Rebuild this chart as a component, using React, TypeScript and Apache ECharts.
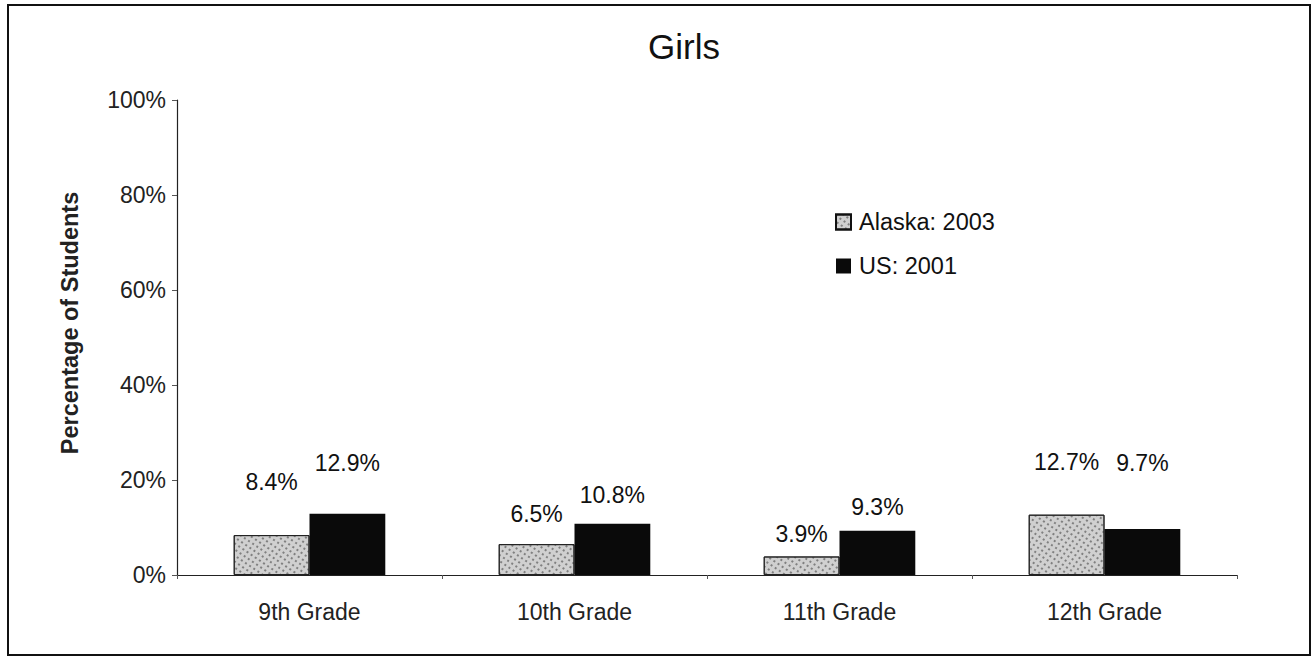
import React, { useEffect, useRef } from "react";
import * as echarts from "echarts";

const categories = ["9th Grade", "10th Grade", "11th Grade", "12th Grade"];
const alaska2003 = [8.4, 6.5, 3.9, 12.7];
const us2001 = [12.9, 10.8, 9.3, 9.7];
const alaskaLabelDist = [42, 19, 11, 41];
const usLabelDist = [39, 17, 12, 54];
const yTicks = [0, 20, 40, 60, 80, 100];
const yAxisTitle = "Percentage of Students";

const FONT = "Liberation Sans, Arial, sans-serif";

export default function App() {
  const ref = useRef<HTMLDivElement>(null);
  useEffect(() => {
    if (!ref.current) return;
    const chart = echarts.init(ref.current, null, { renderer: "svg" });
    const decal = {
      symbol: "rect",
      symbolSize: 0.8,
      color: "rgba(40,40,40,0.8)",
      dashArrayX: [2, 3],
      dashArrayY: [2, 3],
      rotation: 0.6,
    };
    chart.setOption({
      animation: false,
      backgroundColor: "#ffffff",
      title: {
        text: "Girls",
        left: 679,
        top: 24,
        textAlign: "center",
        textStyle: { fontFamily: FONT, fontSize: 35, fontWeight: "normal", color: "#111" },
      },
      legend: {
        orient: "vertical",
        left: 835,
        top: 210,
        padding: 0,
        itemWidth: 15,
        itemHeight: 15,
        itemGap: 20,
        textStyle: { fontFamily: FONT, fontSize: 23.5, color: "#111", padding: [0, 0, 0, 3] },
        data: [
          { name: "Alaska: 2003", icon: "rect", itemStyle: { color: "#d0d0d0", borderColor: "#111", borderWidth: 2, decal } },
          { name: "US: 2001", icon: "rect" },
        ],
      },
      grid: { left: 177, right: 77, top: 100, bottom: 84 },
      xAxis: {
        type: "category",
        data: categories,
        axisLine: { lineStyle: { color: "#222", width: 1.2 } },
        axisTick: { show: true, length: 4, lineStyle: { color: "#555" } },
        axisLabel: { fontFamily: FONT, fontSize: 23, color: "#222", margin: 25 },
      },
      yAxis: {
        type: "value",
        min: 0,
        max: 100,
        interval: 20,
        axisLine: { show: true, lineStyle: { color: "#222", width: 1.2 } },
        axisTick: { show: true, length: 5, lineStyle: { color: "#555" } },
        splitLine: { show: false },
        axisLabel: {
          fontFamily: FONT,
          fontSize: 23,
          color: "#222",
          margin: 11,
          formatter: (v: number) => (yTicks.includes(v) ? v + "%" : ""),
        },
      },
      series: [
        {
          name: "Alaska: 2003",
          type: "bar",
          barWidth: "28.6%",
          barGap: "0%",
          itemStyle: { color: "#d0d0d0", borderColor: "#222", borderWidth: 1, decal },
          data: alaska2003.map((v, i) => ({
            value: v,
            label: { distance: alaskaLabelDist[i] },
          })),
          label: {
            show: true,
            position: "top",
            fontFamily: FONT,
            fontSize: 23,
            color: "#111",
            formatter: (p: any) => p.value.toFixed(1) + "%",
          },
        },
        {
          name: "US: 2001",
          type: "bar",
          barWidth: "28.6%",
          itemStyle: { color: "#0a0a0a" },
          data: us2001.map((v, i) => ({
            value: v,
            label: { distance: usLabelDist[i] },
          })),
          label: {
            show: true,
            position: "top",
            fontFamily: FONT,
            fontSize: 23,
            color: "#111",
            formatter: (p: any) => p.value.toFixed(1) + "%",
          },
        },
      ],
      graphic: [
        {
          type: "rect",
          shape: { x: 8, y: 5, width: 1302, height: 650 },
          style: { fill: "none", stroke: "#111", lineWidth: 2 },
          silent: true,
        },
        {
          type: "text",
          x: 70,
          y: 323,
          rotation: Math.PI / 2,
          silent: true,
          style: {
            text: yAxisTitle,
            align: "center",
            verticalAlign: "middle",
            fontFamily: FONT,
            fontSize: 23.5,
            fontWeight: "bold",
            fill: "#222",
          },
        },
      ],
    });
    return () => chart.dispose();
  }, []);
  return (
    <div
      ref={ref}
      style={{ position: "fixed", left: 0, top: 0, width: 1314, height: 659 }}
    />
  );
}
